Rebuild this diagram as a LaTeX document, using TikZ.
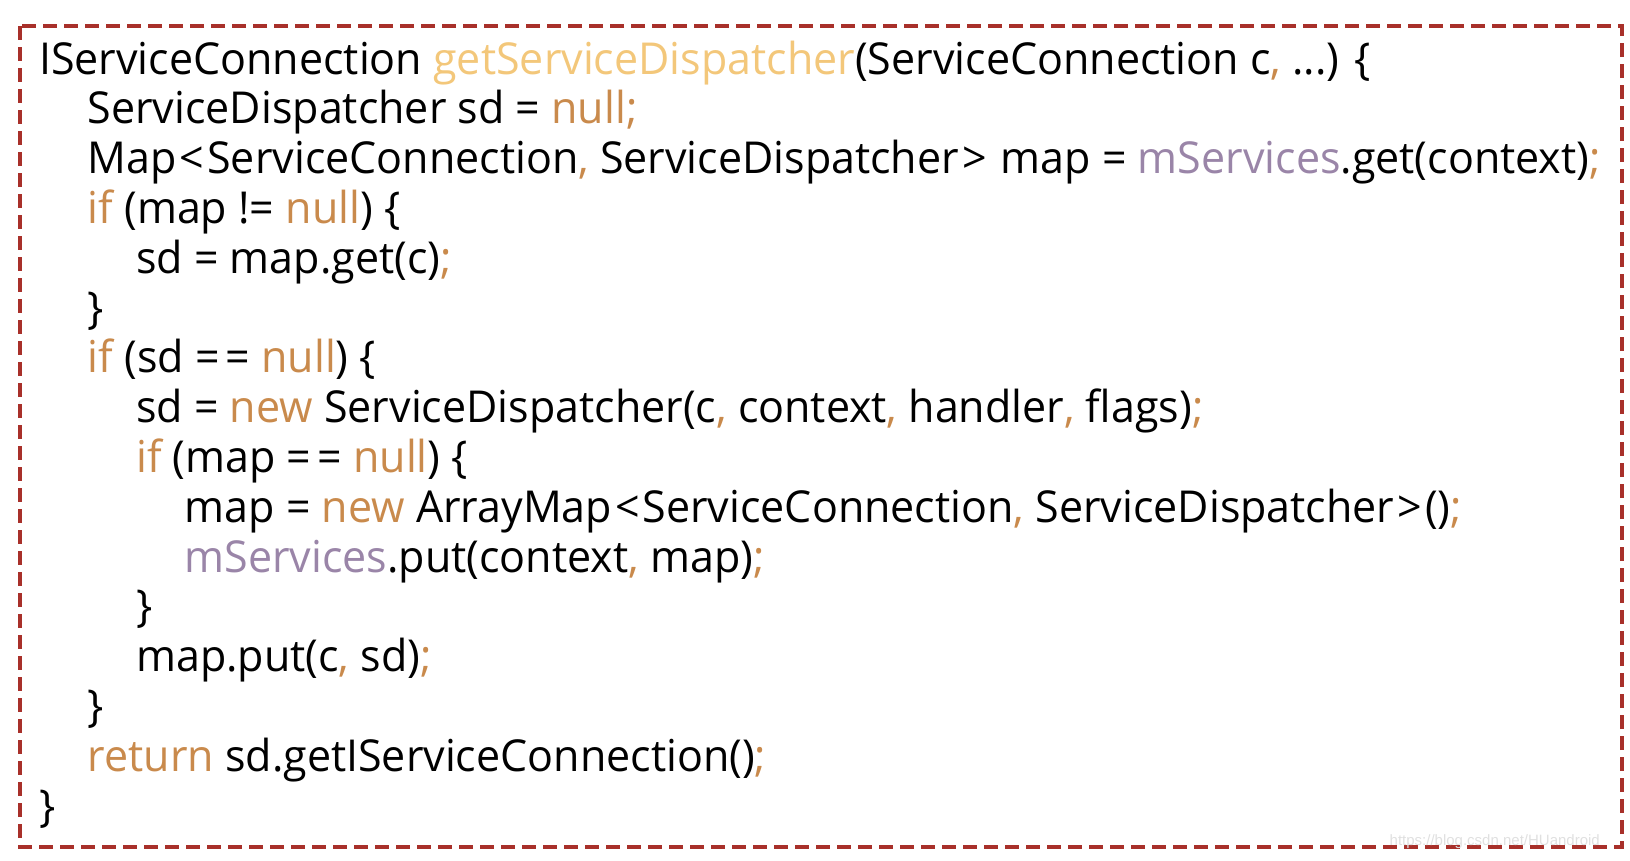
\documentclass[tikz,border=0pt]{standalone}
\usepackage{fontspec}
\usepackage{xcolor}
\setmainfont[FakeStretch=0.977]{Open Sans}
\newfontfamily\wmfont{Liberation Sans}
\definecolor{rahmen}{HTML}{A8302A}
\definecolor{schluessel}{HTML}{C98A4C}
\definecolor{methode}{HTML}{F3C77A}
\definecolor{feld}{HTML}{9A85A8}
\newcommand{\kwd}[1]{\textcolor{schluessel}{#1}}
\newcommand{\meth}[1]{\textcolor{methode}{#1}}
\newcommand{\fld}[1]{\textcolor{feld}{#1}}
\newcommand{\lt}{\kern3pt<\kern3pt}
\newcommand{\gt}{\kern3pt>\kern3pt}
\newcommand{\eqeq}{=\kern6pt=}
\tikzset{
    codezeile/.style={anchor=base west, inner sep=0pt, font=\fontsize{44}{50}\selectfont}
}

\begin{document}
\begin{tikzpicture}[x=1pt, y=-1pt]
        \useasboundingbox (0, 0) rectangle (1630, 860);
        % Rahmen
        \draw[rahmen, line width=3.8pt, dash pattern=on 14pt off 7pt] (20, 26) rectangle (1622, 847);
        % Code
        \node[codezeile] (l1)  at (39, 74)    {IServiceConnection \meth{getServiceDispatcher}(ServiceConnection c\kwd{,} ...) \{};
        \node[codezeile] (l2)  at (87.5, 123.8)  {ServiceDispatcher sd = \kwd{null;}};
        \node[codezeile] (l3)  at (87.5, 173.6)  {Map\lt ServiceConnection\kwd{,} ServiceDispatcher\gt{} map = \fld{mServices}.get(context)\kwd{;}};
        \node[codezeile] (l4)  at (87.5, 223.4)  {\kwd{if} (map != \kwd{null}) \{};
        \node[codezeile] (l5)  at (136, 273.2)   {sd = map.get(c)\kwd{;}};
        \node[codezeile] (l6)  at (87.5, 323)    {\}};
        \node[codezeile] (l7)  at (87.5, 372.8)  {\kwd{if} (sd \eqeq{} \kwd{null}) \{};
        \node[codezeile] (l8)  at (136, 422.6)   {sd = \kwd{new} ServiceDispatcher(c\kwd{,} context\kwd{,} handler\kwd{,} flags)\kwd{;}};
        \node[codezeile] (l9)  at (136, 472.4)   {\kwd{if} (map \eqeq{} \kwd{null}) \{};
        \node[codezeile] (l10) at (184.5, 522.2) {map = \kwd{new} ArrayMap\lt ServiceConnection\kwd{,} ServiceDispatcher\gt()\kwd{;}};
        \node[codezeile] (l11) at (184.5, 572)   {\fld{mServices}.put(context\kwd{,} map)\kwd{;}};
        \node[codezeile] (l12) at (136, 621.8)   {\}};
        \node[codezeile] (l13) at (136, 671.6)   {map.put(c\kwd{,} sd)\kwd{;}};
        \node[codezeile] (l14) at (87.5, 721.4)  {\}};
        \node[codezeile] (l15) at (87.5, 771.2)  {\kwd{return} sd.getIServiceConnection()\kwd{;}};
        \node[codezeile] (l16) at (39, 821)      {\}};
        % Wasserzeichen
        \node[anchor=base east, inner sep=0pt, text=black!12, font=\wmfont\fontsize{15}{15}\selectfont] (wz) at (1600, 845) {https://blog.csdn.net/HUandroid};
\end{tikzpicture}
\end{document}
